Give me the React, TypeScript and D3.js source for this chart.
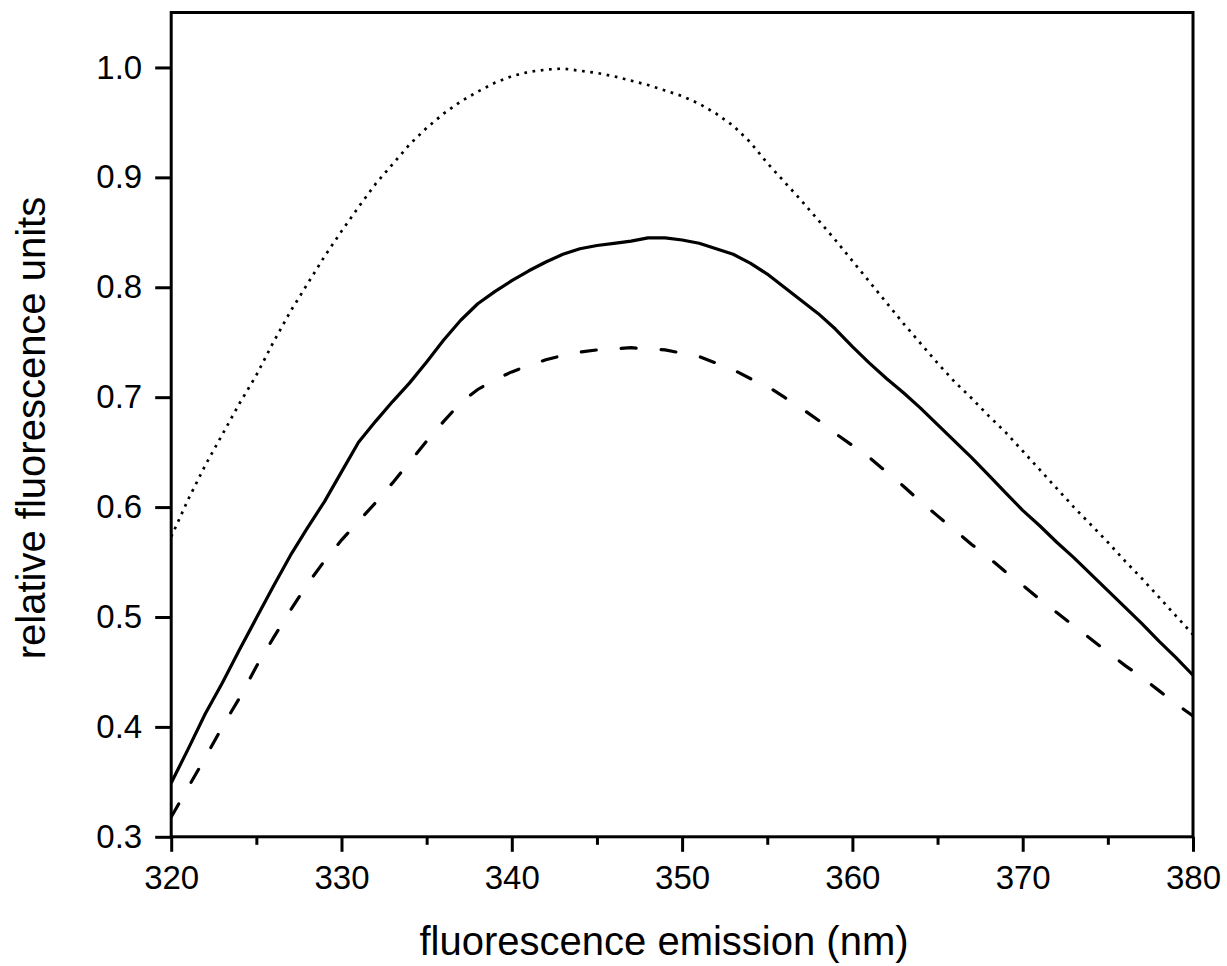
import React, { useEffect, useRef } from "react";
import * as d3 from "d3";

// wavelength grid (nm)
const wavelengths = [
  320, 321, 322, 323, 324, 325, 326, 327, 328, 329, 330, 331, 332, 333, 334, 335, 336, 337, 338, 339,
  340, 341, 342, 343, 344, 345, 346, 347, 348, 349, 350, 351, 352, 353, 354, 355, 356, 357, 358, 359,
  360, 361, 362, 363, 364, 365, 366, 367, 368, 369, 370, 371, 372, 373, 374, 375, 376, 377, 378, 379, 380,
];

// dotted curve
const dottedValues = [
  0.573, 0.607, 0.638, 0.666, 0.694, 0.72, 0.75, 0.778, 0.803, 0.828, 0.851, 0.873, 0.894, 0.912, 0.93, 0.945, 0.958, 0.969, 0.978, 0.986,
  0.992, 0.996, 0.998, 0.999, 0.997, 0.995, 0.992, 0.988, 0.984, 0.979, 0.974, 0.967, 0.958, 0.947, 0.932, 0.913, 0.896, 0.879, 0.861, 0.843,
  0.824, 0.805, 0.786, 0.767, 0.749, 0.731, 0.714, 0.699, 0.683, 0.668, 0.651, 0.634, 0.617, 0.6, 0.584, 0.568, 0.551, 0.535, 0.518, 0.501, 0.484,
];

// solid curve
const solidValues = [
  0.349, 0.38, 0.412, 0.44, 0.47, 0.499, 0.528, 0.556, 0.581, 0.605, 0.632, 0.659, 0.678, 0.696, 0.713, 0.732, 0.752, 0.77, 0.785, 0.796,
  0.806, 0.815, 0.823, 0.83, 0.835, 0.838, 0.84, 0.842, 0.845, 0.845, 0.843, 0.84, 0.835, 0.83, 0.822, 0.812, 0.8, 0.788, 0.776, 0.762,
  0.746, 0.731, 0.717, 0.704, 0.69, 0.675, 0.66, 0.645, 0.629, 0.613, 0.597, 0.583, 0.568, 0.554, 0.539, 0.524, 0.509, 0.494, 0.478, 0.463, 0.447,
];

// dashed curve
const dashedValues = [
  0.318, 0.345, 0.372, 0.4, 0.426, 0.455, 0.481, 0.506, 0.53, 0.551, 0.57, 0.587, 0.604, 0.622, 0.641, 0.66, 0.678, 0.695, 0.707, 0.716,
  0.723, 0.729, 0.734, 0.738, 0.741, 0.743, 0.744, 0.745, 0.744, 0.743, 0.74, 0.737, 0.731, 0.725, 0.717, 0.71, 0.7, 0.69, 0.679, 0.667,
  0.656, 0.645, 0.632, 0.619, 0.605, 0.592, 0.579, 0.566, 0.554, 0.541, 0.529, 0.516, 0.504, 0.492, 0.48, 0.468, 0.456, 0.445, 0.433, 0.421, 0.41,
];

const xMajorTicks = [320, 330, 340, 350, 360, 370, 380];
const xMinorTicks = [325, 335, 345, 355, 365, 375];
const yTicks = [0.3, 0.4, 0.5, 0.6, 0.7, 0.8, 0.9, 1.0];

const FONT = "'Liberation Sans', Arial, sans-serif";

export default function App() {
  const ref = useRef<SVGSVGElement>(null);

  useEffect(() => {
    const svg = d3.select(ref.current);
    svg.selectAll("*").remove();

    const left = 171.2, right = 1193, top = 12.5, bottom = 836.8;
    const x = d3.scaleLinear().domain([320, 380]).range([left, right]);
    const y = d3.scaleLinear().domain([0.3, 1.05]).range([bottom, top]);

    // Axes
    const xAxis = svg.append("g").attr("transform", "translate(0," + bottom + ")");
    xAxis.call(d3.axisBottom(x).tickValues(xMinorTicks).tickSize(8).tickSizeOuter(0).tickFormat(() => ""));
    const xMajor = svg.append("g").attr("transform", "translate(0," + bottom + ")");
    xMajor.call(d3.axisBottom(x).tickValues(xMajorTicks).tickSize(15).tickSizeOuter(0).tickPadding(14).tickFormat(d3.format("d")));

    const yAxis = svg.append("g").attr("transform", "translate(" + left + ",0)");
    yAxis.call(d3.axisLeft(y).tickValues(yTicks).tickSize(16).tickSizeOuter(0).tickPadding(13).tickFormat(d3.format(".1f")));

    svg.selectAll(".domain").remove();
    svg.selectAll(".tick line").attr("stroke", "#000").attr("stroke-width", 3);
    svg.selectAll(".tick text")
      .attr("fill", "#000")
      .style("font-family", FONT)
      .style("font-size", "33px");

    // Frame
    svg.append("rect")
      .attr("x", left).attr("y", top)
      .attr("width", right - left).attr("height", bottom - top)
      .attr("fill", "none").attr("stroke", "#000").attr("stroke-width", 3);

    // Curves
    const clip = svg.append("clipPath").attr("id", "plot-clip");
    clip.append("rect").attr("x", left).attr("y", top).attr("width", right - left).attr("height", bottom - top);

    const line = d3.line<number>()
      .x((d, i) => x(wavelengths[i]))
      .y(d => y(d));

    const g = svg.append("g").attr("clip-path", "url(#plot-clip)");
    g.append("path").attr("d", line(dottedValues))
      .attr("fill", "none").attr("stroke", "#000").attr("stroke-width", 2.7)
      .attr("stroke-dasharray", "2.7 5.6");
    g.append("path").attr("d", line(solidValues))
      .attr("fill", "none").attr("stroke", "#000").attr("stroke-width", 3.2)
      .attr("stroke-linejoin", "round");
    g.append("path").attr("d", line(dashedValues))
      .attr("fill", "none").attr("stroke", "#000").attr("stroke-width", 3.2)
      .attr("stroke-dasharray", "15 25").attr("stroke-linecap", "round");

    // Axis titles
    svg.append("text")
      .attr("x", 664).attr("y", 955)
      .attr("text-anchor", "middle")
      .style("font-family", FONT).style("font-size", "40px")
      .text("fluorescence emission (nm)");
    svg.append("text")
      .attr("transform", "translate(45,428) rotate(-90)")
      .attr("text-anchor", "middle")
      .style("font-family", FONT).style("font-size", "40px")
      .text("relative fluorescence units");
  }, []);

  return (
    <div style={{ position: "absolute", left: 0, top: 0 }}>
      <svg ref={ref} width={1227} height={966} style={{ display: "block", background: "#fff" }}></svg>
    </div>
  );
}
